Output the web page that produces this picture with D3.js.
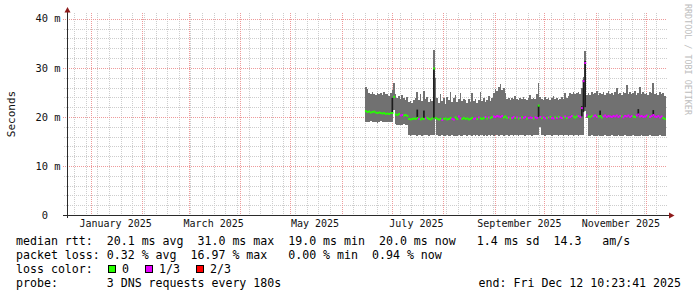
<!DOCTYPE html>
<html>
<head>
<meta charset="utf-8">
<script src="https://cdn.jsdelivr.net/npm/d3@7"></script>
<style>
	body { margin: 0; background: #fff; }
	svg { display: block; }
	text { font-family: 'DejaVu Sans Mono', monospace; white-space: pre; }
</style>
</head>
<body>
<svg id="chart" width="697" height="297"></svg>
<script>
// one value per day, starting at firstDay (ms)
const firstDay = new Date(2025, 5, 15);

const smokeHi = [
	26.1, 25.8, 24.9, 24.6, 25.1, 24.7, 24.5, 24.9, 24.6, 24.8,
	24.4, 25.0, 24.6, 24.7, 24.3, 24.9, 25.5, 26.9, 24.6, 23.9,
	24.2, 23.6, 24.4, 23.8, 23.4, 24.0, 23.0, 23.3, 22.8, 23.5,
	23.9, 25.0, 23.4, 24.6, 23.2, 25.2, 23.7, 24.1, 23.1, 23.6,
	23.3, 33.7, 28.0, 23.8, 22.9, 24.6, 23.2, 23.9, 22.7, 24.1,
	23.4, 25.1, 23.0, 23.8, 24.4, 23.1, 23.6, 24.9, 23.3, 23.7,
	23.4, 22.9, 23.7, 23.1, 24.8, 23.3, 23.6, 22.9, 23.5, 25.0,
	23.2, 23.8, 23.0, 23.5, 24.2, 23.3, 23.9, 24.9, 25.6, 25.3,
	26.2, 26.7, 25.4, 25.9, 24.8, 23.6, 23.9, 23.5, 23.8, 23.6,
	24.3, 23.7, 23.5, 23.9, 23.6, 24.0, 23.7, 23.5, 23.8, 24.4,
	23.6, 23.9, 23.7, 24.6, 27.0, 24.0, 23.7, 23.5, 24.0, 23.6,
	23.9, 23.5, 23.8, 24.2, 23.6, 23.9, 23.5, 23.7, 24.0, 23.6,
	24.9, 23.8, 24.3, 24.9, 24.6, 25.0, 24.7, 24.8, 25.1, 24.6,
	26.0, 28.2, 33.5, 24.4, 24.9, 24.5, 25.1, 24.6, 24.8, 25.2,
	24.4, 24.9, 24.7, 25.0, 24.5, 24.8, 25.3, 24.6, 24.9, 24.5,
	25.0, 25.9, 24.7, 24.9, 24.4, 25.1, 24.8, 26.5, 24.6, 25.0,
	24.7, 24.9, 25.2, 24.5, 24.8, 26.2, 24.6, 25.0, 24.7, 24.9,
	24.4, 25.1, 24.8, 26.9, 24.6, 24.9, 24.5, 25.0, 24.7, 24.8,
	24.3
];

const smokeLo = [
	19.0, 18.9, 19.0, 19.1, 18.9, 19.0, 19.0, 18.8, 19.0, 19.1,
	19.0, 18.9, 19.0, 19.0, 18.9, 19.0, 19.0, 21.4, 18.5, 18.4,
	18.4, 18.3, 18.4, 18.5, 18.4, 18.3, 16.3, 16.2, 16.4, 16.3,
	16.3, 16.2, 16.4, 16.3, 16.1, 16.3, 16.4, 16.3, 16.2, 16.3,
	16.3, 16.4, 19.6, 16.3, 16.2, 16.1, 16.3, 16.2, 16.2, 16.3,
	16.1, 16.2, 16.3, 16.2, 16.1, 16.2, 16.3, 16.2, 16.2, 16.3,
	16.3, 16.2, 16.4, 16.3, 16.2, 16.3, 16.1, 16.3, 16.2, 16.4,
	16.3, 16.2, 16.3, 16.1, 16.3, 16.2, 16.3, 16.2, 16.4, 16.3,
	16.2, 16.3, 16.3, 16.1, 16.3, 16.4, 16.2, 16.3, 16.4, 16.2,
	16.3, 16.4, 16.2, 16.3, 16.4, 16.3, 16.2, 16.4, 16.3, 16.3,
	16.2, 16.4, 16.3, 16.4, 16.4, 18.0, 16.3, 16.4, 16.2, 16.3,
	16.4, 16.3, 16.2, 16.4, 16.3, 16.3, 16.2, 16.4, 16.3, 16.2,
	16.3, 16.4, 16.2, 16.3, 16.3, 16.2, 16.4, 16.3, 16.2, 16.3,
	16.3, 16.3, 21.2, 19.8, 16.2, 16.1, 16.3, 16.2, 16.2, 16.1,
	16.3, 16.2, 16.1, 16.2, 16.3, 16.1, 16.2, 16.2, 16.3, 16.1,
	16.2, 16.1, 16.3, 16.2, 16.2, 16.1, 16.3, 16.2, 16.1, 16.2,
	16.2, 16.3, 16.1, 16.2, 16.2, 16.1, 16.3, 16.2, 16.2, 16.1,
	16.2, 16.3, 16.1, 16.2, 16.2, 16.1, 16.2, 16.3, 16.2, 16.1,
	16.2
];

const median = [
	21.2, 21.0, 21.1, 20.9, 21.0, 21.1, 20.9, 20.8, 20.9, 20.8,
	20.7, 20.8, 20.6, 20.7, 20.6, 20.8, 20.8, 24.1, 20.5, 20.4,
	20.6, 20.3, 20.4, 20.3, 20.4, 20.2, 19.6, 19.5, 19.6, 19.7,
	19.6, 19.8, 19.6, 19.5, 19.7, 19.6, 19.7, 19.8, 19.6, 19.5,
	19.7, 29.9, 19.8, 19.6, 19.5, 19.6, 19.4, 19.6, 19.7, 19.5,
	19.6, 19.8, 19.6, 19.5, 19.9, 19.6, 20.1, 19.7, 19.6, 19.8,
	19.6, 19.7, 19.5, 19.6, 19.8, 19.6, 19.7, 19.6, 19.9, 19.7,
	19.6, 19.8, 20.0, 19.7, 19.9, 19.8, 20.0, 20.1, 20.0, 20.2,
	20.1, 20.0, 20.2, 19.9, 20.1, 19.8, 19.9, 19.7, 19.8, 20.0,
	19.8, 19.9, 19.7, 19.8, 19.9, 19.8, 20.0, 19.7, 19.8, 19.9,
	19.8, 19.7, 19.9, 19.8, 22.3, 20.0, 19.8, 19.9, 19.7, 19.8,
	19.9, 20.0, 19.8, 19.7, 19.9, 19.8, 20.0, 19.9, 19.8, 19.9,
	20.1, 19.8, 19.9, 20.0, 20.2, 20.1, 19.9, 20.1, 20.2, 20.0,
	21.8, 27.3, 31.0, 20.3, 20.1, 20.0, 20.2, 20.1, 20.3, 20.0,
	20.1, 20.2, 19.9, 20.1, 20.3, 20.0, 20.2, 20.1, 20.0, 20.2,
	20.1, 20.3, 20.0, 20.2, 20.1, 19.9, 20.2, 20.1, 20.3, 20.0,
	20.2, 20.1, 20.0, 20.3, 20.5, 20.1, 20.2, 20.0, 20.1, 20.3,
	20.1, 20.0, 20.2, 20.4, 20.1, 20.0, 20.2, 19.9, 20.1, 19.8,
	19.6
];

// packet loss in percent, per day
const lossPct = [
	0, 0, 0, 0, 0, 0, 0, 0, 0, 0,
	0, 0, 0, 0, 0, 0, 0, 0, 0, 0,
	0, 0.6, 0.5, 0, 0, 0, 0, 0, 0, 0,
	0, 0, 0.4, 0, 0, 0, 0.5, 0, 0, 0,
	0, 0, 0, 0, 0, 0, 0.3, 0, 0, 0,
	0, 0, 0.6, 0.4, 0, 0, 0.7, 0.5, 0, 0,
	0, 0, 0, 0, 0, 0.4, 0.6, 0, 0.3, 0,
	0, 0, 0.5, 0, 0.4, 0, 0, 0.6, 0.8, 0.5,
	0.7, 0.9, 0.4, 0, 0, 0, 0.6, 0, 0.5, 0.7,
	0, 0.8, 0, 0.6, 0, 0.5, 0.9, 0, 0.7, 0.4,
	0.6, 0, 0.8, 0.5, 0, 0.4, 0, 0.7, 0.6, 0,
	0.8, 0, 0.5, 0.9, 0, 0.6, 0, 0.7, 0.5, 0,
	0.9, 0, 0.6, 0.8, 0.7, 0, 0, 0, 0.6, 0.5,
	0.9, 2.4, 16.97, 0.8, 0, 0, 0, 0.7, 0.9, 0.6,
	0, 0, 0, 0.5, 0.8, 0.9, 0.6, 0.7, 0.5, 0.8,
	0.6, 0.9, 0.7, 0.5, 0, 0.8, 0.6, 0.9, 0.7, 0.5,
	0.8, 0, 0, 0.6, 0.9, 0.7, 0.5, 0.8, 0.6, 0.7,
	0, 0.9, 0.6, 0.8, 0.5, 0.7, 0.9, 0.6, 0.94, 0,
	0
];

// dense (dark) part of the smoke, only where it shows
const coreDays = [16, 31, 35, 41, 104, 130, 131, 132, 141, 164, 173];
const coreLo = [20.8, 19.8, 19.7, 19.8, 20.0, 20.1, 21.0, 22.0, 20.1, 20.3, 20.2];
const coreHi = [23.9, 21.5, 21.3, 29.9, 22.4, 22.2, 27.6, 31.4, 21.3, 21.6, 21.4];

const yTicks = [0, 10, 20, 30, 40];
const yTickLabels = ['0  ', '10 m', '20 m', '30 m', '40 m'];
const xTickMonths = [0, 2, 4, 6, 8, 10];
const xTickLabels = ['January 2025', 'March 2025', 'May 2025', 'July 2025', 'September 2025', 'November 2025'];

const legendRows = [
	'median rtt:  20.1 ms avg  31.0 ms max  19.0 ms min  20.0 ms now   1.4 ms sd  14.3   am/s',
	'packet loss: 0.32 % avg  16.97 % max   0.00 % min  0.94 % now',
	'loss color:',
	'probe:       3 DNS requests every 180s'
];
const lossLabels = ['0', '1/3', '2/3'];
const lossColors = ['#26ff00', '#e600ff', '#ff0000'];
const endLabel = 'end: Fri Dec 12 10:23:41 2025';

const svg = d3.select('#chart');

const x = d3.scaleTime()
	.domain([new Date(2024, 11, 17, 18), new Date(2025, 11, 13, 11)])
	.range([67, 666.5]);

const y = d3.scaleLinear()
	.domain([0, 41.2])
	.range([215, 13]);

const dayDate = (i) => d3.timeDay.offset(firstDay, i);
const lossClass = (p) => p === 0 ? 0 : (p <= 100 / 3 ? 1 : 2);

// grid
const grid = svg.append('g')
	.attr('shape-rendering', 'crispEdges')
	.attr('stroke-dasharray', '1,1');

const [t0, t1] = x.domain();

grid.selectAll('line.vminor')
	.data(d3.timeSunday.range(t0, t1))
	.join('line')
	.attr('class', 'vminor')
	.attr('x1', (d) => Math.round(x(d)) + 0.5)
	.attr('x2', (d) => Math.round(x(d)) + 0.5)
	.attr('y1', y.range()[1])
	.attr('y2', y(0))
	.attr('stroke', '#cdcdcd');

grid.selectAll('line.hminor')
	.data(d3.range(2, 41, 2).filter((v) => v % 10 !== 0))
	.join('line')
	.attr('class', 'hminor')
	.attr('x1', 64)
	.attr('x2', x.range()[1])
	.attr('y1', (d) => Math.round(y(d)) + 0.5)
	.attr('y2', (d) => Math.round(y(d)) + 0.5)
	.attr('stroke', '#cdcdcd');

grid.selectAll('line.vmajor')
	.data(d3.timeMonth.range(t0, t1))
	.join('line')
	.attr('class', 'vmajor')
	.attr('x1', (d) => Math.round(x(d)) + 0.5)
	.attr('x2', (d) => Math.round(x(d)) + 0.5)
	.attr('y1', y.range()[1])
	.attr('y2', y(0) + 2)
	.attr('stroke', '#ee9a9a');

grid.selectAll('line.hmajor')
	.data(yTicks.filter((v) => v > 0))
	.join('line')
	.attr('class', 'hmajor')
	.attr('x1', 63)
	.attr('x2', x.range()[1])
	.attr('y1', (d) => Math.round(y(d)) + 0.5)
	.attr('y2', (d) => Math.round(y(d)) + 0.5)
	.attr('stroke', '#ee9a9a');

// smoke
const days = d3.range(smokeHi.length + 1);
const at = (arr, i) => arr[Math.min(i, arr.length - 1)];

svg.append('path')
	.datum(days)
	.attr('shape-rendering', 'crispEdges')
	.attr('fill', '#717171')
	.attr('d', d3.area()
		.curve(d3.curveStepAfter)
		.x((i) => x(dayDate(i)))
		.y0((i) => y(at(smokeLo, i)))
		.y1((i) => y(at(smokeHi, i)))
	);

svg.append('g')
	.selectAll('rect')
	.data(coreDays)
	.join('rect')
	.attr('x', (d) => x(dayDate(d)))
	.attr('width', (d) => x(dayDate(d + 1)) - x(dayDate(d)))
	.attr('y', (d, i) => y(coreHi[i]))
	.attr('height', (d, i) => y(coreLo[i]) - y(coreHi[i]))
	.attr('fill', '#1c1c1c');

// median, coloured by loss
svg.append('g')
	.selectAll('line')
	.data(d3.range(median.length))
	.join('line')
	.attr('x1', (i) => x(dayDate(i)))
	.attr('x2', (i) => x(dayDate(i + 1)) + 0.2)
	.attr('y1', (i) => y(median[i]))
	.attr('y2', (i) => y(median[i]))
	.attr('stroke-width', 2)
	.attr('stroke', (i) => lossColors[lossClass(lossPct[i])]);

// axes
const axes = svg.append('g');

axes.append('line')
	.attr('x1', 63)
	.attr('x2', 670)
	.attr('y1', y(0) + 0.5)
	.attr('y2', y(0) + 0.5)
	.attr('stroke', '#2a2a2a')
	.attr('shape-rendering', 'crispEdges');

axes.append('line')
	.attr('x1', x.range()[0] + 0.5)
	.attr('x2', x.range()[0] + 0.5)
	.attr('y1', y(0) + 3)
	.attr('y2', 11)
	.attr('stroke', '#2a2a2a')
	.attr('shape-rendering', 'crispEdges');

axes.append('path')
	.attr('d', 'M669,212.5L674.5,215.5L669,218.5Z')
	.attr('fill', '#8e1b1b');

axes.append('path')
	.attr('d', 'M64.5,12.5L67.5,7L70.5,12.5Z')
	.attr('fill', '#8e1b1b');

axes.selectAll('text.ylab')
	.data(yTicks)
	.join('text')
	.attr('class', 'ylab')
	.attr('x', 60.5)
	.attr('y', (d) => y(d) + 3.6)
	.attr('text-anchor', 'end')
	.attr('font-size', '10.4px')
	.attr('fill', '#111')
	.text((d, i) => yTickLabels[i]);

axes.selectAll('text.xlab')
	.data(xTickMonths)
	.join('text')
	.attr('class', 'xlab')
	.attr('x', (m) => x(new Date(2025, m, 16)))
	.attr('y', 227)
	.attr('text-anchor', 'middle')
	.attr('font-size', '10px')
	.attr('fill', '#111')
	.text((m, i) => xTickLabels[i]);

svg.append('text')
	.attr('transform', 'translate(15,114) rotate(-90)')
	.attr('text-anchor', 'middle')
	.attr('font-size', '11px')
	.attr('fill', '#111')
	.text('Seconds');

svg.append('text')
	.attr('transform', 'translate(685,4) rotate(90)')
	.attr('font-size', '8.4px')
	.attr('fill', '#bdbdbd')
	.text('RRDTOOL / TOBI OETIKER');

// legend
const legend = svg.append('g')
	.attr('font-size', '11.6px')
	.attr('fill', '#000');

const rowY = [245, 259, 272.7, 286.7];

legend.selectAll('text.row')
	.data(legendRows)
	.join('text')
	.attr('class', 'row')
	.attr('x', 16)
	.attr('y', (d, i) => rowY[i])
	.text((d) => d);

let boxX = 108;
lossLabels.forEach((label, i) => {
	legend.append('rect')
		.attr('x', boxX + 0.5)
		.attr('y', 265.5)
		.attr('width', 7)
		.attr('height', 7)
		.attr('fill', lossColors[i])
		.attr('stroke', '#000')
		.attr('shape-rendering', 'crispEdges');

	const t = legend.append('text')
		.attr('x', boxX + 14)
		.attr('y', rowY[2])
		.text(label);

	boxX += 14 + t.node().getComputedTextLength() + 16;
});

legend.append('text')
	.attr('x', 681)
	.attr('y', rowY[3])
	.attr('text-anchor', 'end')
	.text(endLabel);
</script>
</body>
</html>
